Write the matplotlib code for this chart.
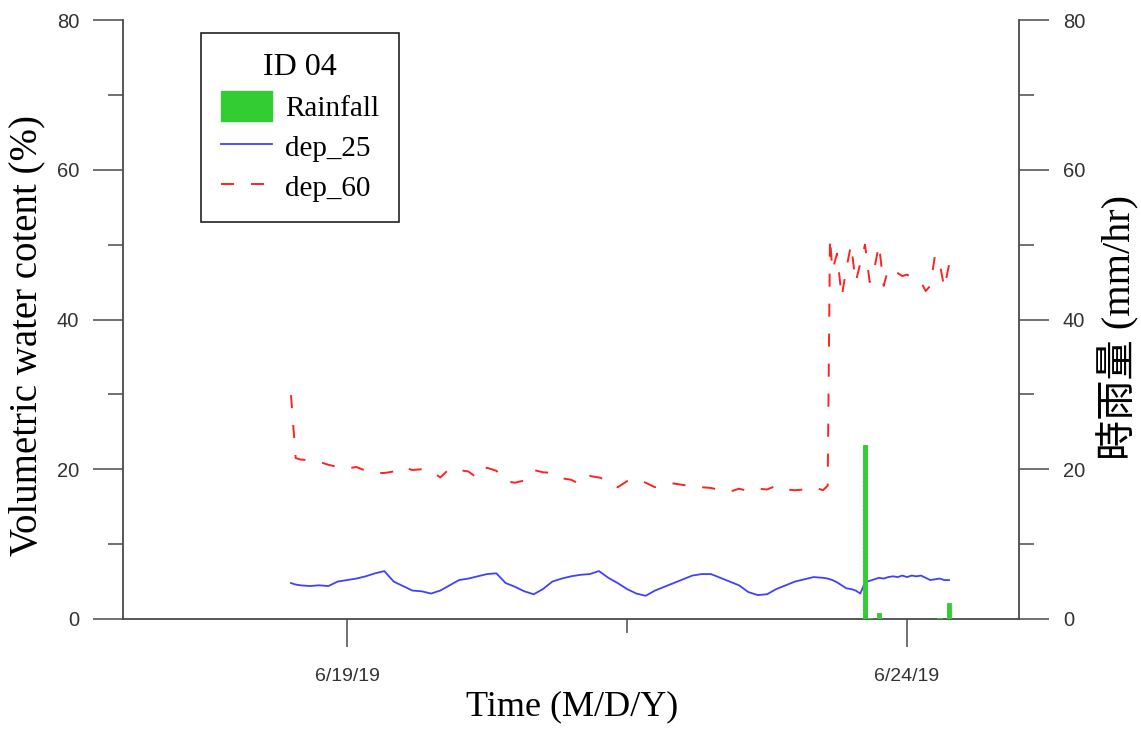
import matplotlib
matplotlib.use('Agg')
import matplotlib.pyplot as plt
import matplotlib.dates as mdates
from matplotlib.ticker import FixedLocator, FixedFormatter, NullFormatter
import matplotlib.patches as mpatches
from matplotlib.lines import Line2D
import pandas as pd

plt.rcParams['lines.scale_dashes'] = False

# ---------------- data ----------------
series_start = '2019-06-18 12:00'
# hours since series_start
hours = [0, 1, 2, 4, 6, 8, 10, 12, 14, 16, 18,
         20, 22, 24, 26, 28, 30, 32, 34, 36, 38,
         40, 42, 44, 46, 48, 50, 52, 54, 56, 58,
         60, 62, 64, 66, 68, 70, 72, 74, 76, 78,
         80, 82, 84, 86, 88, 90, 92, 94, 96, 98,
         100, 102, 104, 106, 108, 110, 112, 114,
         115, 115.5,
         116, 117, 118, 119, 120, 121, 122, 123, 124, 125,
         126, 127, 128, 129, 130, 131, 132, 133, 134, 135,
         136, 137, 138, 139, 140, 141]

dep_25 = [4.8, 4.6, 4.5, 4.4, 4.5, 4.4, 5.0, 5.2, 5.4, 5.7, 6.1,
          6.4, 5.0, 4.4, 3.8, 3.7, 3.4, 3.8, 4.5, 5.2, 5.4,
          5.7, 6.0, 6.1, 4.8, 4.3, 3.7, 3.3, 4.0, 5.0, 5.4,
          5.7, 5.9, 6.0, 6.4, 5.5, 4.8, 4.0, 3.4, 3.1, 3.8,
          4.3, 4.8, 5.3, 5.8, 6.0, 6.0, 5.5, 5.0, 4.5, 3.6,
          3.2, 3.3, 4.0, 4.5, 5.0, 5.3, 5.6, 5.5,
          5.4, 5.3,
          5.2, 4.9, 4.5, 4.1, 4.0, 3.8, 3.4, 4.9, 5.1, 5.3,
          5.5, 5.4, 5.6, 5.7, 5.6, 5.8, 5.6, 5.8, 5.7, 5.8,
          5.5, 5.2, 5.3, 5.4, 5.2, 5.2]

dep_60 = [29.9, 21.5, 21.3, 21.2, 21.0, 20.6, 20.3, 20.1, 20.3, 19.8, 19.5,
          19.5, 19.7, 20.3, 19.9, 20.0, 19.8, 18.9, 20.1, 19.9, 19.7,
          18.8, 20.2, 19.8, 18.4, 18.2, 18.5, 19.9, 19.6, 19.5, 18.8,
          18.6, 18.0, 19.1, 18.9, 18.5, 17.6, 18.4, 18.7, 18.2, 17.6,
          17.8, 18.1, 17.9, 17.8, 17.6, 17.5, 17.2, 17.0, 17.4, 17.1,
          17.4, 17.3, 17.8, 17.3, 17.2, 17.3, 17.6, 17.2,
          17.8, 51.0,
          46.5, 48.8, 43.0, 46.8, 50.0, 45.0, 47.5, 50.0, 45.0, 46.8,
          50.0, 44.5, 46.8, 46.5, 46.2, 45.8, 46.0, 45.6, 45.2, 45.0,
          43.8, 44.5, 48.6, 47.5, 44.2, 47.3]

# hourly rainfall record: zero except the listed hours
rain_record_hours = 142
rain_event_hours = [123, 124, 126, 139, 141]
rain_event_mm = [23.3, 0.2, 0.8, 0.2, 2.2]

xtick_dates = ['2019-06-19', '2019-06-24']
xtick_labels = ['6/19/19', '6/24/19']
xminor_dates = ['2019-06-21 12:00']
x_range = ['2019-06-17', '2019-06-25']
y_ticks = [0, 20, 40, 60, 80]
y_minor = [10, 30, 50, 70]

# ---------------- build ----------------
t0 = pd.Timestamp(series_start)
times = [t0 + pd.Timedelta(hours=h) for h in hours]
rain_vals = [0.0] * rain_record_hours
for h, v in zip(rain_event_hours, rain_event_mm):
    rain_vals[h] = v
rain_times = [t0 + pd.Timedelta(hours=h) for h in range(rain_record_hours)]

W, H = 1141, 731
fig = plt.figure(figsize=(W / 100, H / 100), dpi=100)
ax = fig.add_axes([123 / W, 1 - 619 / H, (1019 - 123) / W, (619 - 20) / H])
ax2 = ax.twinx()

serif = ['Liberation Serif', 'DejaVu Serif']
sans = ['Liberation Sans', 'DejaVu Sans']
spine_col = '#4a4a4a'
green = '#33cc33'
blue = '#4040ff'
red = '#ff2222'

# rainfall bars (right axis)
rx = mdates.date2num(rain_times)
ax2.bar(rx, rain_vals, width=1 / 24, color=green, edgecolor=green,
        linewidth=0.6, zorder=2)
# hourly record baseline (faint green along zero)
ax2.step(rx, rain_vals, where='mid', color=green, lw=0.8, ls=(0, (1.5, 1)),
         zorder=1, alpha=0.8)

# soil moisture lines (left axis)
ax.plot(times, dep_25, color=blue, lw=1.3, zorder=3)
ax.plot(times, dep_60, color=red, lw=1.4, dashes=(9.4, 12.2), zorder=3)

xl = mdates.date2num(pd.to_datetime(x_range))
ax.set_xlim(xl[0], xl[1])
ax.set_ylim(0, 80)
ax2.set_ylim(0, 80)

# spines
for a in (ax, ax2):
    a.spines['top'].set_visible(False)
    for s in a.spines.values():
        s.set_color(spine_col)
        s.set_linewidth(1.3)
ax.spines['right'].set_visible(False)
ax2.spines['left'].set_visible(False)
ax2.spines['bottom'].set_visible(False)
ax.patch.set_visible(False)

# x ticks
ax.xaxis.set_major_locator(FixedLocator(mdates.date2num(pd.to_datetime(xtick_dates))))
ax.xaxis.set_major_formatter(FixedFormatter(xtick_labels))
ax.xaxis.set_minor_locator(FixedLocator(mdates.date2num(pd.to_datetime(xminor_dates))))
ax.xaxis.set_minor_formatter(NullFormatter())
ax.tick_params(axis='x', which='major', direction='out', length=20, width=1.1,
               color=spine_col, pad=15, labelsize=14, labelcolor='#333333')
ax.tick_params(axis='x', which='minor', direction='out', length=10, width=1.1,
               color=spine_col)

# y ticks
for a, side in ((ax, 'left'), (ax2, 'right')):
    a.set_yticks(y_ticks)
    a.set_yticks(y_minor, minor=True)
    a.tick_params(axis='y', which='major', direction='out', length=21.5, width=1.1,
                  color=spine_col, pad=10, labelsize=14.5, labelcolor='#333333')
    a.tick_params(axis='y', which='minor', direction='out', length=11, width=1.1,
                  color=spine_col)
for lab in ax.get_xticklabels() + ax.get_yticklabels() + ax2.get_yticklabels():
    lab.set_family(sans)

# axis labels
fig.text(27 / W, 1 - 336 / H, 'Volumetric water cotent (%)', rotation=90,
         ha='center', va='center', fontsize=28, family=serif)
fig.text(572 / W, 1 - 707 / H, 'Time (M/D/Y)', ha='center', va='center',
         fontsize=26, family=serif)
fig.text(1118 / W, 1 - 327 / H, '時雨量 (mm/hr)', rotation=90,
         ha='center', va='center', fontsize=29,
         family=['Liberation Serif', 'Noto Sans CJK TC'])

# legend
handles = [mpatches.Patch(facecolor=green, edgecolor=green),
           Line2D([], [], color=blue, lw=1.3),
           Line2D([], [], color=red, lw=1.4, dashes=(9.4, 12.2))]
labels = ['Rainfall', 'dep_25', 'dep_60']
leg = ax2.legend(handles, labels, title='ID 04', loc='upper left',
                 bbox_to_anchor=((201 - 123) / 896, (619 - 33) / 599),
                 borderaxespad=0, frameon=True, fancybox=False, shadow=False,
                 prop={'family': serif, 'size': 21},
                 handlelength=1.75, handleheight=1.2, handletextpad=0.45,
                 labelspacing=0.32, borderpad=0.68)
leg.get_title().set_fontsize(23)
leg.get_title().set_family(serif)
leg.get_frame().set_edgecolor('#222222')
leg.get_frame().set_linewidth(1.2)
leg.get_frame().set_alpha(1)

fig.savefig('out.png', dpi=100)
